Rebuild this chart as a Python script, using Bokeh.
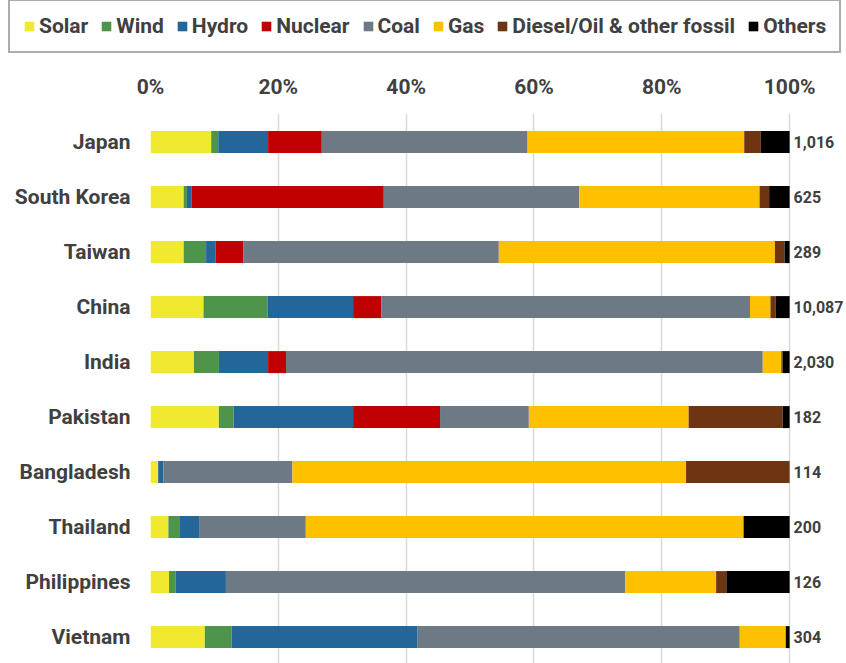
from bokeh.plotting import figure
from bokeh.models import (Range1d, FixedTicker, PrintfTickFormatter, Legend, LegendItem,
                          ColumnDataSource, LabelSet)
from bokeh.core.properties import value
from bokeh.embed import file_html
from bokeh.resources import INLINE

countries = ["Japan", "South Korea", "Taiwan", "China", "India", "Pakistan",
             "Bangladesh", "Thailand", "Philippines", "Vietnam"]
totals = ["1,016", "625", "289", "10,087", "2,030", "182", "114", "200", "126", "304"]

solar = [9.5, 5.2, 5.2, 8.3, 6.8, 10.7, 1.2, 2.8, 2.9, 8.5]
wind = [1.1, 0.5, 3.5, 10.0, 3.9, 2.3, 0.0, 1.7, 1.0, 4.2]
hydro = [7.8, 0.7, 1.5, 13.4, 7.7, 18.7, 0.8, 3.1, 7.9, 29.1]
nuclear = [8.4, 30.1, 4.3, 4.4, 2.8, 13.6, 0.0, 0.0, 0.0, 0.0]
coal = [32.2, 30.6, 40.0, 57.7, 74.6, 13.9, 20.2, 16.7, 62.5, 50.4]
gas = [33.9, 28.2, 43.2, 3.2, 2.9, 25.0, 61.6, 68.5, 14.2, 7.2]
diesel = [2.6, 1.5, 1.5, 0.8, 0.2, 14.7, 16.2, 0.0, 1.6, 0.0]
others = [4.5, 3.2, 0.8, 2.2, 1.1, 1.1, 0.0, 7.2, 9.9, 0.6]

series_names = ["Solar", "Wind", "Hydro", "Nuclear", "Coal", "Gas",
                "Diesel/Oil & other fossil", "Others"]
series_colors = ["#F0E92F", "#4E944A", "#23669A", "#C00000", "#6D7A86",
                 "#FFC000", "#6E3512", "#000000"]
x_ticks = [0, 20, 40, 60, 80, 100]

keys = ["s%d" % i for i in range(len(series_names))]
ypos = list(range(len(countries)))
data = {"y": ypos, "total": totals, "end": [100] * len(countries)}
for k, vals in zip(keys, [solar, wind, hydro, nuclear, coal, gas, diesel, others]):
    data[k] = vals
src = ColumnDataSource(data)

FONT = "Roboto"
TXT = "#404040"

# ---------------- legend strip (its own root) ----------------
lf = figure(width=846, height=55, output_backend="svg", toolbar_location=None,
            x_range=Range1d(0, 100), y_range=Range1d(50, 51),
            min_border_left=0, min_border_right=0, min_border_top=0, min_border_bottom=0)
lf.axis.visible = False
lf.grid.visible = False
lf.outline_line_color = None
leg_renderers = lf.hbar_stack(keys, y="y", height=0.4, color=series_colors,
                              source=src, line_color=None)

legend = Legend(items=[LegendItem(label=n, renderers=[r]) for n, r in zip(series_names, leg_renderers)],
                orientation="horizontal", location=(8, 2))
legend.label_text_font = FONT
legend.label_text_font_style = "bold"
legend.label_text_font_size = "21px"
legend.label_text_color = TXT
legend.glyph_width = 12
legend.glyph_height = 12
legend.label_standoff = 4
legend.spacing = 12
legend.padding = 13
legend.margin = 0
legend.border_line_color = "#595959"
legend.border_line_width = 2
legend.background_fill_color = "white"
lf.add_layout(legend)

# ---------------- main chart ----------------
p = figure(width=846, height=608, output_backend="svg", toolbar_location=None,
           x_range=Range1d(0, 108.9), y_range=Range1d(9.48, -0.52),
           x_axis_location="above",
           min_border_left=150, min_border_right=0, min_border_top=58,
           min_border_bottom=0)
p.outline_line_color = None

p.hbar_stack(keys, y="y", height=0.4, color=series_colors,
             source=src, line_color=None)

labels = LabelSet(x="end", y="y", text="total", source=src, x_offset=4,
                  text_align="left", text_baseline="middle",
                  text_font=value(FONT), text_font_style="bold",
                  text_font_size="16px", text_color=TXT)
p.add_layout(labels)

p.xaxis.ticker = FixedTicker(ticks=x_ticks)
p.xaxis.formatter = PrintfTickFormatter(format="%d%%")
p.xaxis.axis_line_color = None
p.xaxis.major_tick_line_color = None
p.xaxis.minor_tick_line_color = None
p.xaxis.major_label_standoff = 9
p.xaxis.major_label_text_font = FONT
p.xaxis.major_label_text_font_style = "bold"
p.xaxis.major_label_text_font_size = "21px"
p.xaxis.major_label_text_color = TXT

p.yaxis.ticker = FixedTicker(ticks=ypos)
p.yaxis.major_label_overrides = {i: c for i, c in zip(ypos, countries)}
p.yaxis.axis_line_color = None
p.yaxis.major_tick_line_color = None
p.yaxis.minor_tick_line_color = None
p.yaxis.major_label_standoff = 14
p.yaxis.major_label_text_font = FONT
p.yaxis.major_label_text_font_style = "bold"
p.yaxis.major_label_text_font_size = "21px"
p.yaxis.major_label_text_color = TXT

p.xgrid.grid_line_color = "#D9D9D9"
p.xgrid.grid_line_width = 1.5
p.ygrid.grid_line_color = None

open("out.html", "w").write(file_html([lf, p], INLINE))
